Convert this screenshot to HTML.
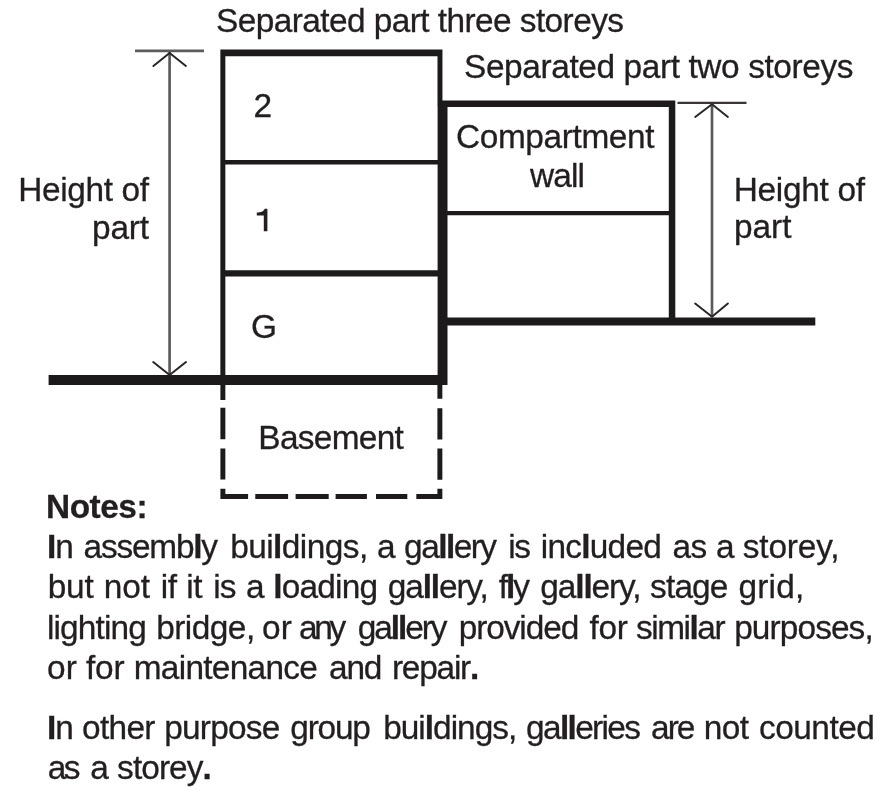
<!DOCTYPE html>
<html><head><meta charset="utf-8"><title>Height of part diagram</title>
<style>
html,body{margin:0;padding:0;background:#fff;}
body{width:880px;height:790px;overflow:hidden;}
svg{display:block;}
text{font-family:"Liberation Sans",sans-serif;font-size:33.4px;fill:#231f20;stroke:#231f20;stroke-width:0.3px;}
svg{filter:blur(0.45px);}
.b{font-weight:bold;}
</style></head>
<body>
<svg width="880" height="790" viewBox="0 0 880 790">
<rect width="880" height="790" fill="#fff"/>
<path fill="#1d1a1c" fill-rule="nonzero" d="M220.35,49.6H442.45V56.25H220.35Z M220.35,49.6H225.35V385.0H220.35Z M437.5,49.6H442.45V107H437.5Z M437.6,100.5H447.5V385.0H437.6Z M220.35,160.0H440V164.5H220.35Z M220.35,270.35H440V276.5H220.35Z M48.6,375.1H447.5V385.0H48.6Z M440,100.5H675.3V106.9H440Z M668.8,100.5H675.3V325.5H668.8Z M440,210.9H670V215.3H440Z M440,317.4H815.3V325.5H440Z M220.4,385H225.35V400H220.4Z M220.4,407.8H225.35V439.2H220.4Z M220.4,448.4H225.35V479.6H220.4Z M220.4,488.7H225.35V499.05H220.4Z M437.4,385H442.35V398.7H437.4Z M437.4,408.3H442.35V439.4H437.4Z M437.4,448.6H442.35V479.8H437.4Z M437.4,488.7H442.35V499.05H437.4Z M220.4,494.0H248.1V499.05H220.4Z M255.3,494.0H288.1V499.05H255.3Z M295.6,494.0H328.7V499.05H295.6Z M335.6,494.0H366.9V499.05H335.6Z M376,494.0H407.3V499.05H376Z M416.3,494.0H442.35V499.05H416.3Z"/>
<!-- dimension arrows -->
<g fill="none" stroke="#5c5c5c" stroke-width="2.7">
<line x1="135" y1="50.9" x2="204" y2="50.9"/>
<line x1="169.6" y1="52" x2="169.6" y2="374"/>
<line x1="712" y1="104" x2="712" y2="317"/>
</g>
<line x1="677.5" y1="102.9" x2="746.5" y2="102.9" stroke="#3a3637" stroke-width="2.3"/>
<g fill="none" stroke="#2a2627" stroke-width="2" stroke-linecap="round">
<polyline points="153.4,66 169.6,53 185.9,66"/>
<polyline points="153.2,362 169.6,375 186,362"/>
<polyline points="695.2,117 712,104.3 727.9,117"/>
<polyline points="695.2,303.5 712,316.8 727.9,303.5"/>
</g>
<!-- labels -->
<text id="t1" x="216" y="31.8" textLength="408" lengthAdjust="spacing">Separated part three storeys</text>
<text id="t2" x="464" y="77.8" textLength="389.5" lengthAdjust="spacing">Separated part two storeys</text>
<text id="t3" x="253.6" y="116.6">2</text>
<path id="t4" fill="#231f20" d="M267.4,208.8 L267.4,231.2 L263.8,231.2 L263.8,215.5 L256.8,215.5 L256.8,212.5 C260.6,212.5 263.6,211.8 264.7,208.8 Z"/>
<text id="t5" x="251" y="338.4">G</text>
<text id="t6" x="258.3" y="449.1" textLength="145.5" lengthAdjust="spacing">Basement</text>
<text id="t7" x="456" y="147.5" textLength="198.5" lengthAdjust="spacing">Compartment</text>
<text id="t8" x="530" y="187.2" textLength="55" lengthAdjust="spacing">wall</text>
<text id="t9" x="18.3" y="200.6" textLength="130.7" lengthAdjust="spacing">Height of</text>
<text id="t10" x="92" y="238.9" textLength="57" lengthAdjust="spacing">part</text>
<text id="t11" x="733.7" y="200.6" textLength="131.3" lengthAdjust="spacing">Height of</text>
<text id="t12" x="734" y="238.3" textLength="57.5" lengthAdjust="spacing">part</text>
<!-- notes -->
<text id="n0" class="b" x="46" y="517.9" textLength="101.5" lengthAdjust="spacing">Notes:</text>
<text x="46.95" y="558.4" textLength="26.85" lengthAdjust="spacing"><tspan class="b">I</tspan>n</text>
<text x="83.60" y="558.4" textLength="134.40" lengthAdjust="spacing">assemb<tspan class="b">l</tspan>y</text>
<text x="230.20" y="558.4" textLength="138.00" lengthAdjust="spacing">bui<tspan class="b">l</tspan>dings,</text>
<text x="377.10" y="558.4">a</text>
<text x="404.10" y="558.4" textLength="92.90" lengthAdjust="spacing">ga<tspan class="b">ll</tspan>ery</text>
<text x="508.20" y="558.4" textLength="22.70" lengthAdjust="spacing">is</text>
<text x="540.70" y="558.4" textLength="121.10" lengthAdjust="spacing">inc<tspan class="b">l</tspan>uded</text>
<text x="672.60" y="558.4" textLength="34.55" lengthAdjust="spacing">as</text>
<text x="716.10" y="558.4">a</text>
<text x="742.85" y="558.4" textLength="96.60" lengthAdjust="spacing">storey,</text>
<text x="47.70" y="598.2" textLength="46.05" lengthAdjust="spacing">but</text>
<text x="103.70" y="598.2" textLength="46.30" lengthAdjust="spacing">not</text>
<text x="160.70" y="598.2" textLength="16.30" lengthAdjust="spacing">if</text>
<text x="186.20" y="598.2" textLength="16.30" lengthAdjust="spacing">it</text>
<text x="213.20" y="598.2" textLength="23.20" lengthAdjust="spacing">is</text>
<text x="246.10" y="598.2">a</text>
<text x="273.20" y="598.2" textLength="104.85" lengthAdjust="spacing"><tspan class="b">l</tspan>oading</text>
<text x="387.85" y="598.2" textLength="100.85" lengthAdjust="spacing">ga<tspan class="b">ll</tspan>ery,</text>
<text x="498.75" y="598.2" textLength="31.25" lengthAdjust="spacing">f<tspan class="b">l</tspan>y</text>
<text x="540.35" y="598.2" textLength="101.10" lengthAdjust="spacing">ga<tspan class="b">ll</tspan>ery,</text>
<text x="650.10" y="598.2" textLength="78.30" lengthAdjust="spacing">stage</text>
<text x="738.60" y="598.2" textLength="65.60" lengthAdjust="spacing">grid,</text>
<text x="46.95" y="638.6" textLength="99.85" lengthAdjust="spacing">lighting</text>
<text x="156.20" y="638.6" textLength="99.00" lengthAdjust="spacing">bridge,</text>
<text x="262.12" y="638.6" textLength="29.82" lengthAdjust="spacing">or</text>
<text x="299.10" y="638.6" textLength="47.15" lengthAdjust="spacing">any</text>
<text x="357.85" y="638.6" textLength="89.65" lengthAdjust="spacing">ga<tspan class="b">ll</tspan>ery</text>
<text x="458.68" y="638.6" textLength="120.62" lengthAdjust="spacing">provided</text>
<text x="589.52" y="638.6" textLength="38.40" lengthAdjust="spacing">for</text>
<text x="636.08" y="638.6" textLength="89.42" lengthAdjust="spacing">simi<tspan class="b">l</tspan>ar</text>
<text x="734.18" y="638.6" textLength="139.52" lengthAdjust="spacing">purposes,</text>
<text x="47.12" y="679.2" textLength="29.84" lengthAdjust="spacing">or</text>
<text x="86.00" y="679.2" textLength="38.52" lengthAdjust="spacing">for</text>
<text x="133.70" y="679.2" textLength="184.20" lengthAdjust="spacing">maintenance</text>
<text x="329.10" y="679.2" textLength="53.20" lengthAdjust="spacing">and</text>
<text x="391.95" y="679.2" textLength="87.35" lengthAdjust="spacing">repair<tspan class="b">.</tspan></text>
<text x="46.95" y="738.6" textLength="26.85" lengthAdjust="spacing"><tspan class="b">I</tspan>n</text>
<text x="82.10" y="738.6" textLength="73.36" lengthAdjust="spacing">other</text>
<text x="164.20" y="738.6" textLength="116.20" lengthAdjust="spacing">purpose</text>
<text x="290.35" y="738.6" textLength="80.55" lengthAdjust="spacing">group</text>
<text x="383.20" y="738.6" textLength="134.00" lengthAdjust="spacing">bui<tspan class="b">l</tspan>dings,</text>
<text x="526.10" y="738.6" textLength="114.80" lengthAdjust="spacing">ga<tspan class="b">ll</tspan>eries</text>
<text x="651.12" y="738.6" textLength="44.28" lengthAdjust="spacing">are</text>
<text x="703.70" y="738.6" textLength="45.30" lengthAdjust="spacing">not</text>
<text x="759.10" y="738.6" textLength="115.70" lengthAdjust="spacing">counted</text>
<text x="47.85" y="778.6" textLength="32.55" lengthAdjust="spacing">as</text>
<text x="90.35" y="778.6">a</text>
<text x="117.10" y="778.6" textLength="94.70" lengthAdjust="spacing">storey<tspan class="b">.</tspan></text>
</svg>
</body></html>
